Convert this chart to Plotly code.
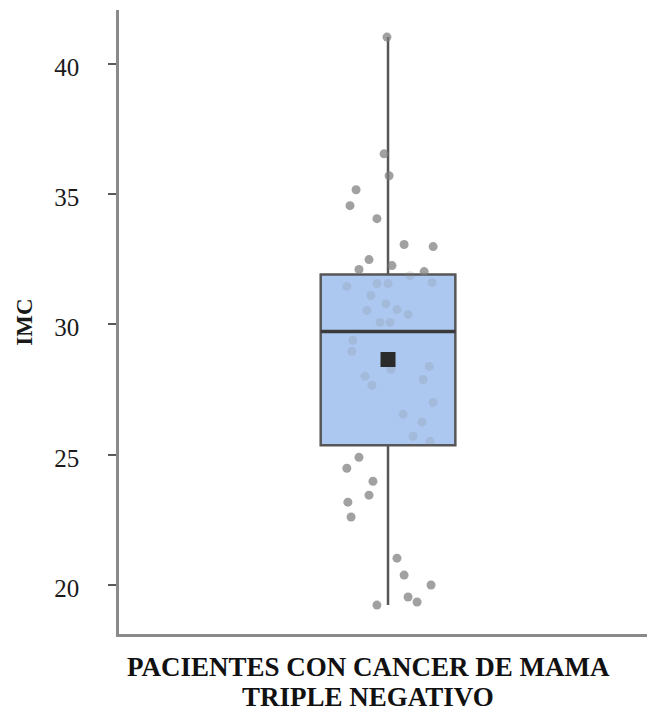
import numpy as np
import plotly.graph_objects as go

# IMC (body-mass index) of triple-negative breast cancer patients
imc = [41.03, 36.55, 35.71, 35.17, 34.56, 34.06, 33.07, 32.99, 32.49, 32.26,
       32.11, 32.03, 31.88, 31.46, 31.57, 31.57, 31.61, 31.11, 30.80, 30.54,
       30.57, 30.38, 30.08, 30.08, 29.39, 28.97, 28.28, 28.39, 28.01, 27.66,
       27.89, 27.01, 26.55, 26.25, 25.71, 25.52, 24.90, 24.48, 23.98, 23.45,
       23.18, 22.61, 21.03, 20.38, 20.00, 19.54, 19.35, 19.23]

# horizontal jitter of each dot around the box centre
jitter = [-0.004, -0.015, 0.004, -0.121, -0.144, -0.042, 0.061, 0.171, -0.072, 0.015,
          -0.110, 0.137, 0.083, -0.156, -0.042, 0.000, 0.167, -0.065, -0.008, -0.080,
          0.034, 0.076, -0.030, 0.008, -0.133, -0.137, 0.011, 0.156, -0.087, -0.061,
          0.133, 0.171, 0.057, 0.129, 0.095, 0.159, -0.110, -0.156, -0.057, -0.072,
          -0.152, -0.140, 0.034, 0.061, 0.163, 0.076, 0.110, -0.042]

y_ticks = [20, 25, 30, 35, 40]
y_title = "IMC"
x_title_lines = ["PACIENTES CON CANCER DE MAMA", "TRIPLE NEGATIVO"]

serif = "Liberation Serif"
box_width = 0.51

# box statistics (linear-interpolated quartiles, Tukey fences)
arr = np.array(imc)
q1, med, q3 = np.percentile(arr, [25, 50, 75])
iqr = q3 - q1
lo = arr[arr >= q1 - 1.5 * iqr].min()
hi = arr[arr <= q3 + 1.5 * iqr].max()
mean = arr.mean()

# dots hidden behind the translucent box are shown faintly
dot_colors = ["rgba(120,120,120,0.18)" if q1 < v < q3 else "rgba(125,125,125,0.72)"
              for v in imc]

fig = go.Figure()

# box summary
fig.add_trace(go.Box(
    x=[0], q1=[q1], median=[med], q3=[q3],
    lowerfence=[lo], upperfence=[hi],
    boxpoints=False,
    width=box_width,
    whiskerwidth=0,
    fillcolor="rgb(172,200,241)",
    line=dict(color="#575757", width=2.5),
    showlegend=False,
))

# individual observations
fig.add_trace(go.Scatter(
    x=jitter, y=imc, mode="markers",
    marker=dict(size=9, color=dot_colors, line=dict(width=0)),
    hoverinfo="y", showlegend=False,
))

# heavier median bar
fig.add_trace(go.Scatter(
    x=[-box_width / 2, box_width / 2], y=[med, med], mode="lines",
    line=dict(color="#3a3a3a", width=3.5),
    hoverinfo="skip", showlegend=False,
))

# mean marker
fig.add_trace(go.Scatter(
    x=[0], y=[mean], mode="markers",
    marker=dict(symbol="square", size=15, color="#2b2b2b"),
    showlegend=False,
))

fig.update_layout(
    width=647, height=711,
    margin=dict(l=119, r=0, t=10, b=77),
    plot_bgcolor="white", paper_bgcolor="white",
    font=dict(family=serif, color="#1a1a1a"),
)

# two-line category caption under the x axis
for i, line in enumerate(x_title_lines):
    fig.add_annotation(
        text="<b>" + line + "</b>", xref="paper", yref="paper",
        x=0.4716, y=0, xanchor="center", yanchor="middle",
        yshift=-33 - 30 * i, showarrow=False,
        font=dict(size=27, family=serif, color="#111111"),
    )

fig.update_xaxes(
    range=[-1.019, 0.981],
    showgrid=False, zeroline=False,
    showticklabels=False, ticks="",
    showline=True, linecolor="#8a8a8a", linewidth=2.5,
)

fig.update_yaxes(
    range=[18.12, 42.07],
    tickvals=y_ticks, ticktext=[str(v) for v in y_ticks],
    showgrid=False, zeroline=False,
    showline=True, linecolor="#8a8a8a", linewidth=2.5,
    ticks="outside", ticklen=8, tickwidth=2, tickcolor="#5a5a5a",
    tickfont=dict(size=25, family=serif, color="#1a1a1a"),
    ticklabelstandoff=24, ticklabelshift=3,
    title=dict(text="<b>" + y_title + "</b>", font=dict(size=23, family=serif),
               standoff=16),
)

fig.write_html("out.html")
